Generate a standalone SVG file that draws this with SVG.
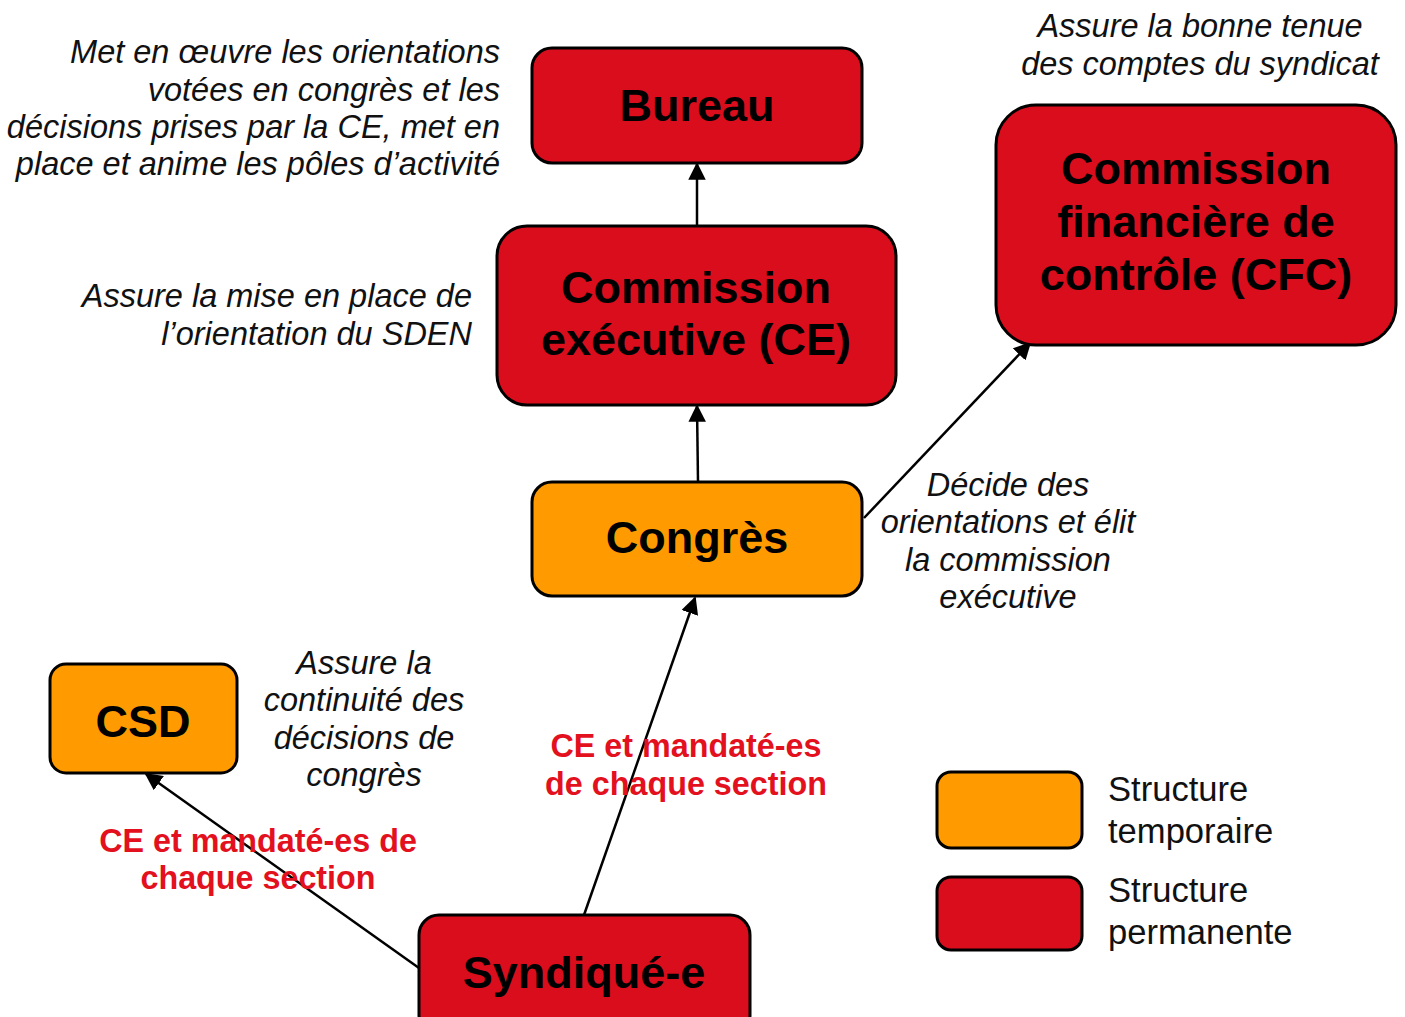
<svg xmlns="http://www.w3.org/2000/svg" width="1405" height="1017" viewBox="0 0 1405 1017">
<style>
.red{fill:#DA0D1D;stroke:#000;stroke-width:3}
.org{fill:#FF9A00;stroke:#000;stroke-width:3}
.lbl{font-family:"Liberation Sans",Arial,sans-serif;font-weight:bold;font-size:45px;fill:#000;text-anchor:middle}
.it{font-family:"Liberation Sans",Arial,sans-serif;font-style:italic;font-size:32.5px;fill:#111}
.rl{font-family:"Liberation Sans",Arial,sans-serif;font-weight:bold;font-size:32.3px;fill:#E3101E;text-anchor:middle}
.lg{font-family:"Liberation Sans",Arial,sans-serif;font-size:34.6px;fill:#111}
.c{stroke:#000;stroke-width:2.5;fill:none;marker-end:url(#ah)}
</style>
<defs>
<marker id="ah" viewBox="0 0 10 10" refX="9" refY="5" markerWidth="7" markerHeight="7" markerUnits="strokeWidth" orient="auto">
<path d="M0,0 L10,5 L0,10 z" fill="#000"/>
</marker>
</defs>
<rect width="1405" height="1017" fill="#fff"/>
<g id="connectors">
<line class="c" x1="697" y1="226" x2="697" y2="164"/>
<line class="c" x1="698" y1="482" x2="697" y2="406"/>
<line class="c" x1="864" y1="518" x2="1030" y2="343"/>
<line class="c" x1="584" y1="915" x2="695" y2="598"/>
<line class="c" x1="419" y1="968" x2="146" y2="774"/>
</g>
<g id="bureau">
<rect class="red" x="532" y="48" width="330" height="115" rx="20"/>
<text class="lbl" x="697" y="121">Bureau</text>
</g>
<g id="ce">
<rect class="red" x="497" y="226" width="399" height="179" rx="30"/>
<text class="lbl" x="696" y="303">Commission</text>
<text class="lbl" x="696" y="355">exécutive (CE)</text>
</g>
<g id="cfc">
<rect class="red" x="996" y="105" width="400" height="240" rx="40"/>
<text class="lbl" x="1196" y="184">Commission</text>
<text class="lbl" x="1196" y="237">financière de</text>
<text class="lbl" x="1196" y="290">contrôle (CFC)</text>
</g>
<g id="congres">
<rect class="org" x="532" y="482" width="330" height="114" rx="20"/>
<text class="lbl" x="697" y="553">Congrès</text>
</g>
<g id="csd">
<rect class="org" x="50" y="664" width="187" height="109" rx="16"/>
<text class="lbl" x="143" y="737">CSD</text>
</g>
<g id="syndique">
<rect class="red" x="419" y="915" width="331" height="120" rx="20"/>
<text class="lbl" x="584" y="988">Syndiqué-e</text>
</g>
<g id="notes">
<text class="it" text-anchor="end" x="500" y="63">Met en œuvre les orientations</text>
<text class="it" text-anchor="end" x="500" y="101">votées en congrès et les</text>
<text class="it" text-anchor="end" x="500" y="138">décisions prises par la CE, met en</text>
<text class="it" text-anchor="end" x="500" y="175">place et anime les pôles d’activité</text>
<text class="it" text-anchor="middle" x="1200" y="37">Assure la bonne tenue</text>
<text class="it" text-anchor="middle" x="1200" y="75">des comptes du syndicat</text>
<text class="it" text-anchor="end" x="472" y="307">Assure la mise en place de</text>
<text class="it" text-anchor="end" x="472" y="345">l’orientation du SDEN</text>
<text class="it" text-anchor="middle" x="1008" y="496">Décide des</text>
<text class="it" text-anchor="middle" x="1008" y="533">orientations et élit</text>
<text class="it" text-anchor="middle" x="1008" y="571">la commission</text>
<text class="it" text-anchor="middle" x="1008" y="608">exécutive</text>
<text class="it" text-anchor="middle" x="364" y="674">Assure la</text>
<text class="it" text-anchor="middle" x="364" y="711">continuité des</text>
<text class="it" text-anchor="middle" x="364" y="749">décisions de</text>
<text class="it" text-anchor="middle" x="364" y="786">congrès</text>
<text class="rl" x="686" y="757">CE et mandaté-es</text>
<text class="rl" x="686" y="795">de chaque section</text>
<text class="rl" x="258" y="852">CE et mandaté-es de</text>
<text class="rl" x="258" y="889">chaque section</text>
</g>
<g id="legend">
<rect class="org" x="937" y="772" width="145" height="76" rx="14"/>
<rect class="red" x="937" y="877" width="145" height="73" rx="14"/>
<text class="lg" x="1108" y="801">Structure</text>
<text class="lg" x="1108" y="843">temporaire</text>
<text class="lg" x="1108" y="902">Structure</text>
<text class="lg" x="1108" y="944">permanente</text>
</g>
</svg>
